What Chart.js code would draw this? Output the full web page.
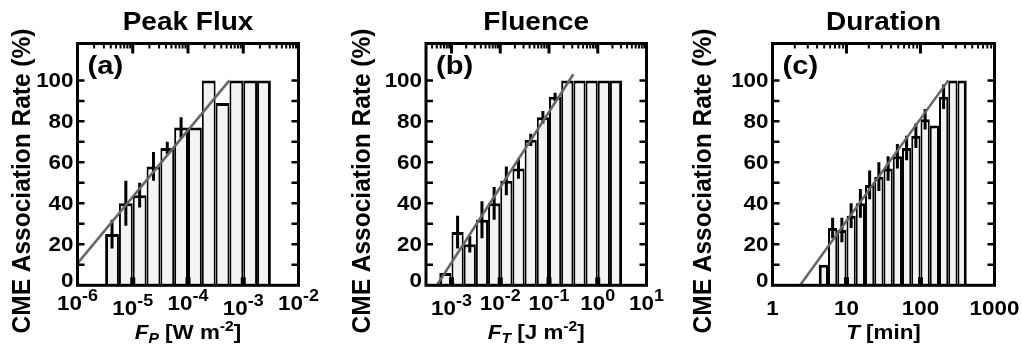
<!DOCTYPE html>
<html><head><meta charset="utf-8">
<script src="https://cdn.jsdelivr.net/npm/chart.js@4/dist/chart.umd.min.js"></script>
<style>
html,body{margin:0;padding:0;background:#fff}
body{width:1022px;height:346px;overflow:hidden;position:relative}
canvas{position:absolute;top:0}
</style></head><body>
<canvas id="ca" width="340" height="346" style="left:0;width:340px;height:346px"></canvas>
<canvas id="cb" width="340" height="346" style="left:340px;width:340px;height:346px"></canvas>
<canvas id="cc" width="342" height="346" style="left:680px;width:342px;height:346px"></canvas>
<script>
// ---------------- data ----------------
// (a) Peak flux: bin centres (log10 W m^-2), CME association rate (%), error (%)
const peakFluxBinLog = [-5.375, -5.125, -4.875, -4.625, -4.375, -4.125, -3.875, -3.625, -3.375, -3.125, -2.875, -2.625];
const peakFluxRate   = [25, 40, 44, 58, 67, 77, 77, 100, 89, 100, 100, 100];
const peakFluxErr    = [7, 11, 6, 7, 3, 5, 0, 0, 0, 0, 0, 0];
const peakFluxFitLog = [-6, -3.25];
const peakFluxFitRate = [10.7, 100];
const peakFluxTickExp = [-6, -5, -4, -3, -2];

// (b) Fluence: bin centres (log10 J m^-2)
const fluenceBinLog = [-3.125, -2.875, -2.625, -2.375, -2.125, -1.875, -1.625, -1.375, -1.125, -0.875, -0.625, -0.375, -0.125, 0.125, 0.375];
const fluenceRate   = [6, 26, 20, 32, 40, 51, 57, 71, 82, 92, 100, 100, 100, 100, 100];
const fluenceErr    = [0, 8, 4, 9, 8, 7, 5, 3, 3, 2, 0, 0, 0, 0, 0];
const fluenceFitLog = [-3.3, -0.5];
const fluenceFitRate = [0, 103];
const fluenceTickExp = [-3, -2, -1, 0, 1];

// (c) Duration: bin centres (log10 min)
const durationBinLog = [0.6875, 0.8125, 0.9375, 1.0625, 1.1875, 1.3125, 1.4375, 1.5625, 1.6875, 1.8125, 1.9375, 2.0625, 2.1875, 2.3125, 2.4375, 2.5625];
const durationRate   = [10, 28, 27, 34, 40, 49, 53, 57, 63, 67, 73, 81, 78, 92, 100, 100];
const durationErr    = [0, 5, 6, 6, 7, 7, 7, 6, 6, 6, 6, 5, 0, 6, 0, 0];
const durationFitLog = [0.372, 2.376];
const durationFitRate = [0, 100];
const durationTickLabels = ['1', '10', '100', '1000'];
const durationTickExp = [0, 1, 2, 3];

const rateTicks = [0, 20, 40, 60, 80, 100];
const titles = ['Peak Flux', 'Fluence', 'Duration'];
const panelLetters = ['(a)', '(b)', '(c)'];
const yTitle = 'CME Association Rate (%)';

// ---------------- drawing helpers ----------------
const FONT = '"Liberation Sans", Arial, Helvetica, sans-serif';
const SX = 1.12;
function setFont(ctx, size, italic) { ctx.font = (italic ? 'italic ' : '') + 'bold ' + size + 'px ' + FONT; }
function runsWidth(ctx, runs) {
  let w = 0;
  for (const r of runs) { setFont(ctx, r.size, r.italic); w += ctx.measureText(r.t).width * SX; }
  return w;
}
function drawRuns(ctx, runs, cx, baseY, align) {
  const w = runsWidth(ctx, runs);
  let x = align === 'right' ? cx - w : (align === 'left' ? cx : cx - w / 2);
  ctx.save();
  ctx.fillStyle = '#000';
  ctx.textBaseline = 'alphabetic';
  ctx.textAlign = 'left';
  for (const r of runs) {
    setFont(ctx, r.size, r.italic);
    const rw = ctx.measureText(r.t).width * SX;
    ctx.save();
    ctx.translate(x, baseY + (r.dy || 0));
    ctx.scale(SX, 1);
    ctx.fillText(r.t, 0, 0);
    ctx.restore();
    x += rw;
  }
  ctx.restore();
}

function axesPlugin(P) {
  return {
    id: 'axesPlugin' + P.idx,
    afterDatasetsDraw(chart) {
      const ctx = chart.ctx;
      const xs = chart.scales.x, ys = chart.scales.y;
      const a = chart.chartArea;
      ctx.save();
      ctx.strokeStyle = '#000';
      ctx.fillStyle = '#000';
      // frame
      ctx.lineWidth = 3;
      ctx.strokeRect(a.left, a.top, a.right - a.left, a.bottom - a.top);
      // y ticks (every 10) on both sides, inward
      ctx.lineWidth = 2.5;
      for (let v = 10; v <= 100; v += 10) {
        const y = ys.getPixelForValue(v);
        ctx.beginPath();
        ctx.moveTo(a.left, y); ctx.lineTo(a.left + 7, y);
        ctx.moveTo(a.right, y); ctx.lineTo(a.right - 7, y);
        ctx.stroke();
      }
      // x ticks: top major + minor, bottom major
      const e0 = Math.floor(P.xminExp), e1 = Math.ceil(P.xmaxExp);
      for (let e = e0; e <= e1; e++) {
        for (let k = 1; k <= 9; k++) {
          const val = k * Math.pow(10, e);
          const lv = Math.log10(val);
          if (lv <= P.xminExp + 1e-6 || lv >= P.xmaxExp - 1e-6) continue;
          const x = xs.getPixelForValue(val);
          if (k === 1) {
            ctx.fillRect(x - 1.5, a.top, 3, 10);
            ctx.fillRect(x - 2.5, a.bottom - 8, 5, 8);
          } else {
            ctx.fillRect(x - 1, a.top, 2, 5);
          }
        }
      }
      ctx.restore();

      // y tick labels
      for (const v of rateTicks) {
        let y = ys.getPixelForValue(v) + 7;
        if (v === 0) y -= 5;
        drawRuns(ctx, [{t: String(v), size: 20}], a.left - 4, y, 'right');
      }
      // x tick labels
      P.tickExp.forEach((e, i) => {
        const x = xs.getPixelForValue(Math.pow(10, e));
        const runs = P.plainLabels ? [{t: P.plainLabels[i], size: 20}]
                                   : [{t: '10', size: 20}, {t: String(e), size: 16, dy: -9}];
        const base = P.xLabelBase + (P.lowLabels && P.lowLabels.includes(e) ? 5 : 0);
        drawRuns(ctx, runs, x, base, 'center');
      });
      // x axis title
      const cx = (a.left + a.right) / 2;
      drawRuns(ctx, P.xTitleRuns, cx, 339, 'center');
      // title
      drawRuns(ctx, [{t: P.title, size: 25}], cx, 30, 'center');
      // panel letter
      drawRuns(ctx, [{t: P.letter, size: 26}], a.left + 10, 74, 'left');
      // y axis title (rotated)
      ctx.save();
      ctx.translate(P.yTitleX, 181);
      ctx.rotate(-Math.PI / 2);
      ctx.scale(1, 1.08);
      setFont(ctx, 24.5, false);
      ctx.textAlign = 'center';
      ctx.textBaseline = 'middle';
      ctx.fillStyle = '#000';
      ctx.fillText(yTitle, 0, 1);
      ctx.restore();
    }
  };
}

function makePanel(P) {
  const n = P.binLog.length;
  const bars = P.binLog.map((c, i) => ({x: Math.pow(10, c), y: P.rate[i]}));
  const errPts = [];
  P.binLog.forEach((c, i) => {
    if (P.err[i] > 0) {
      const x = Math.pow(10, c);
      errPts.push({x, y: P.rate[i] - P.err[i]}, {x, y: Math.min(P.rate[i] + P.err[i], 118)}, {x, y: null});
    }
  });
  const fit = P.fitLog.map((l, i) => ({x: Math.pow(10, l), y: P.fitRate[i]}));
  return new Chart(document.getElementById(P.id), {
    type: 'bar',
    data: {datasets: [
      {type: 'line', data: fit, borderColor: '#666666', borderWidth: 2.5, pointRadius: 0, fill: false, order: 1},
      {type: 'line', data: errPts, borderColor: '#000', borderWidth: 3, pointRadius: 0, fill: false, spanGaps: false, order: 2},
      {type: 'bar', data: bars, backgroundColor: '#f3f3f3', borderColor: '#000',
       borderSkipped: 'start', inflateAmount: 0,
       borderWidth: (c) => ({top: 3, bottom: 0, left: c.dataIndex === 0 ? 3 : 2, right: c.dataIndex === n - 1 ? 3 : 2}),
       barPercentage: 1, categoryPercentage: 1, order: 3}
    ]},
    options: {
      responsive: false, animation: false, devicePixelRatio: 1,
      layout: {padding: P.pad},
      plugins: {legend: {display: false}, tooltip: {enabled: false}, title: {display: false}},
      scales: {
        x: {type: 'logarithmic', display: false, offset: false,
            min: Math.pow(10, P.xminExp), max: Math.pow(10, P.xmaxExp),
            afterBuildTicks: (s) => { s.ticks = P.tickExp.map(e => ({value: Math.pow(10, e)})); }},
        y: {type: 'linear', display: false, min: 0, max: 118}
      }
    },
    plugins: [axesPlugin(P)]
  });
}

makePanel({idx: 0, id: 'ca', binLog: peakFluxBinLog, rate: peakFluxRate, err: peakFluxErr,
  fitLog: peakFluxFitLog, fitRate: peakFluxFitRate, tickExp: peakFluxTickExp, lowLabels: [-5, -3],
  xminExp: -6, xmaxExp: -2, pad: {left: 77.5, right: 41.5, top: 43.5, bottom: 60.7},
  xLabelBase: 310, yTitleX: 22, title: titles[0], letter: panelLetters[0],
  xTitleRuns: [{t: 'F', size: 20, italic: true}, {t: 'P', size: 14, italic: true, dy: 4}, {t: ' [W m', size: 20}, {t: '-2', size: 14, dy: -8}, {t: ']', size: 20}]});

makePanel({idx: 1, id: 'cb', binLog: fluenceBinLog, rate: fluenceRate, err: fluenceErr,
  fitLog: fluenceFitLog, fitRate: fluenceFitRate, tickExp: fluenceTickExp, lowLabels: [-3],
  xminExp: -3.5, xmaxExp: 1, pad: {left: 86, right: 33.5, top: 43.5, bottom: 60.7},
  xLabelBase: 310, yTitleX: 22, title: titles[1], letter: panelLetters[1],
  xTitleRuns: [{t: 'F', size: 20, italic: true}, {t: 'T', size: 14, italic: true, dy: 4}, {t: ' [J m', size: 20}, {t: '-2', size: 14, dy: -8}, {t: ']', size: 20}]});

makePanel({idx: 2, id: 'cc', binLog: durationBinLog, rate: durationRate, err: durationErr,
  fitLog: durationFitLog, fitRate: durationFitRate, tickExp: durationTickExp, plainLabels: durationTickLabels,
  xminExp: 0, xmaxExp: 3, pad: {left: 92.5, right: 27.5, top: 43.5, bottom: 60.7},
  xLabelBase: 315, yTitleX: 23, title: titles[2], letter: panelLetters[2],
  xTitleRuns: [{t: 'T', size: 20, italic: true}, {t: ' [min]', size: 20}]});
</script>
</body></html>
